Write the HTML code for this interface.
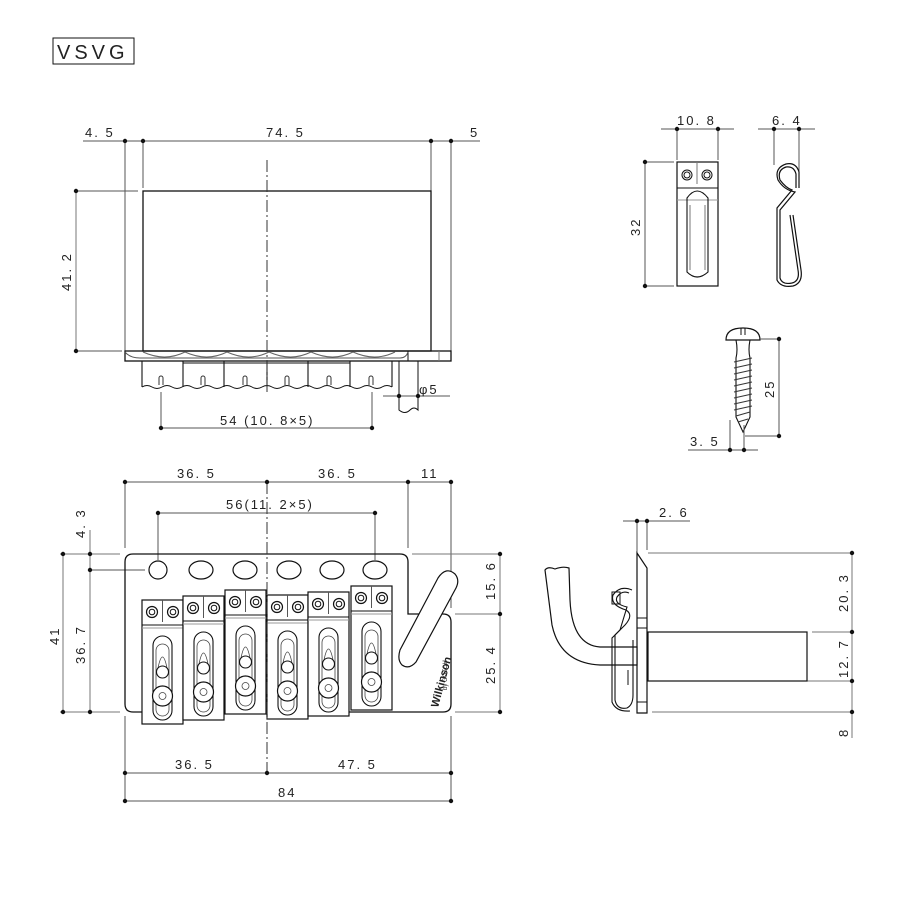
<!DOCTYPE html>
<html><head><meta charset="utf-8"><style>
html,body{margin:0;padding:0;background:#fff}
svg{display:block}
text{font-family:"Liberation Sans",sans-serif;font-size:13px;letter-spacing:2px;fill:#222}
</style></head><body>
<svg width="900" height="900" viewBox="0 0 900 900" xmlns="http://www.w3.org/2000/svg">
<defs>
<g id="sd">
 <rect x="0" y="0" width="41" height="124" fill="#fff" stroke="#111" stroke-width="1.2"/>
 <line x1="20.5" y1="0" x2="20.5" y2="22" stroke="#555"/>
 <circle cx="10" cy="12" r="5.5" fill="none" stroke="#111" stroke-width="1.2"/><circle cx="10" cy="12" r="2.8" fill="none" stroke="#111"/>
 <circle cx="31" cy="12" r="5.5" fill="none" stroke="#111" stroke-width="1.2"/><circle cx="31" cy="12" r="2.8" fill="none" stroke="#111"/>
 <line x1="0" y1="25" x2="41" y2="25" stroke="#111"/><line x1="0" y1="28" x2="41" y2="28" stroke="#999"/>
 <rect x="11" y="36" width="19" height="84" rx="9.5" fill="none" stroke="#111" stroke-width="1.1"/>
 <rect x="14" y="44" width="13" height="72" rx="6.5" fill="none" stroke="#444" stroke-width=".8"/>
 <path d="M16 68 Q20.5 46 25 68" fill="none" stroke="#444" stroke-width=".8"/>
 <circle cx="20.5" cy="72" r="6" fill="#fff" stroke="#111" stroke-width="1.1"/>
 <circle cx="20.5" cy="96" r="10" fill="#fff" stroke="#111" stroke-width="1.2"/>
 <circle cx="20.5" cy="96" r="3.5" fill="none" stroke="#444" stroke-width=".8"/>
</g>
</defs>
<g fill="none" stroke="#111" stroke-width="1">
<!-- VSVG -->
<rect x="53" y="38" width="81" height="26" stroke-width="1"/>
</g>
<text x="57" y="59" style="font-size:20px;letter-spacing:4px">VSVG</text>

<!-- TOP LEFT VIEW -->
<g fill="none" stroke="#111" stroke-width="1">
<line x1="83" y1="141" x2="480" y2="141" stroke="#555"/>
<line x1="125" y1="141" x2="125" y2="351" stroke="#555"/>
<line x1="143" y1="141" x2="143" y2="188" stroke="#555"/>
<line x1="431" y1="141" x2="431" y2="191" stroke="#555"/>
<line x1="451" y1="141" x2="451" y2="351" stroke="#555"/>
<line x1="76" y1="191" x2="138" y2="191" stroke="#555"/>
<line x1="76" y1="351" x2="122" y2="351" stroke="#555"/>
<line x1="76" y1="191" x2="76" y2="351" stroke="#777"/>
<rect x="143" y="191" width="288" height="160" stroke-width="1.3"/>
<rect x="125" y="351" width="326" height="10" stroke-width="1.3"/>
<line x1="408" y1="351" x2="408" y2="361"/><line x1="439" y1="351" x2="439" y2="361" stroke="#777"/>
<path d="M125 352 Q130 358 140 358 L400 358 Q406 358 408 352" stroke="#555"/>
<path d="M143 352 Q165 362 185 352 M185 352 Q207 362 227 352 M227 352 Q249 362 269 352 M269 352 Q291 362 311 352 M311 352 Q333 362 353 352 M353 352 Q375 362 395 352" stroke="#666"/>
<path d="M142 361 V387 M183 361 V387 M224 361 V387 M267 361 V387 M308 361 V387 M350 361 V387 M392 361 V387" stroke-width="1.1"/>
<path d="M183 363 H350" stroke="#111"/>
<path d="M142 387 q5 -3 10 0 t10 0 t10 0 t10 0 t10 0 t10 0 t10 0 t10 0 t10 0 t10 0 t10 0 t10 0 t10 0 t10 0 t10 0 t10 0 t10 0 t10 0 t10 0 t10 0 t10 0 t10 0 t10 0 t10 0 t10 0" stroke-width="1"/>
<path d="M159 385 v-7 a2 2 0 0 1 4 0 v7 M201 385 v-7 a2 2 0 0 1 4 0 v7 M243 385 v-7 a2 2 0 0 1 4 0 v7 M285 385 v-7 a2 2 0 0 1 4 0 v7 M327 385 v-7 a2 2 0 0 1 4 0 v7 M369 385 v-7 a2 2 0 0 1 4 0 v7" stroke="#333"/>
<line x1="267" y1="160" x2="267" y2="392" stroke="#333" stroke-dasharray="12,3,2,3"/>
<path d="M399 361 V410 Q405 415 410 410 Q414 406 418 410 V361"/>
<line x1="383" y1="396" x2="450" y2="396" stroke="#555"/>
<line x1="161" y1="392" x2="161" y2="428" stroke="#555"/><line x1="372" y1="392" x2="372" y2="428" stroke="#555"/>
<line x1="161" y1="428" x2="372" y2="428" stroke="#555"/>
</g>
<g fill="#111">
<circle cx="125" cy="141" r="2.2"/><circle cx="143" cy="141" r="2.2"/><circle cx="431" cy="141" r="2.2"/><circle cx="451" cy="141" r="2.2"/>
<circle cx="76" cy="191" r="2.2"/><circle cx="76" cy="351" r="2.2"/>
<circle cx="399" cy="396" r="2.2"/><circle cx="418" cy="396" r="2.2"/>
<circle cx="161" cy="428" r="2.2"/><circle cx="372" cy="428" r="2.2"/>
</g>
<text x="85" y="137">4. 5</text><text x="266" y="137">74. 5</text><text x="470" y="137">5</text>
<text x="419" y="394">φ5</text>
<text x="220" y="425">54 (10. 8×5)</text>
<text transform="translate(71,291) rotate(-90)">41. 2</text>

<!-- TOP RIGHT: claw -->
<g fill="none" stroke="#111" stroke-width="1">
<line x1="661" y1="129" x2="734" y2="129" stroke="#555"/>
<line x1="677" y1="129" x2="677" y2="160" stroke="#555"/><line x1="718" y1="129" x2="718" y2="160" stroke="#555"/>
<line x1="645" y1="162" x2="674" y2="162" stroke="#555"/><line x1="645" y1="286" x2="674" y2="286" stroke="#555"/>
<line x1="645" y1="162" x2="645" y2="286" stroke="#555"/>
<rect x="677" y="162" width="41" height="124" stroke-width="1.2"/>
<circle cx="687" cy="175" r="5"/><circle cx="687" cy="175" r="3"/>
<circle cx="707" cy="175" r="5"/><circle cx="707" cy="175" r="3"/>
<line x1="697" y1="162" x2="697" y2="184" stroke="#777"/>
<line x1="677" y1="188" x2="718" y2="188"/><line x1="677" y1="200" x2="718" y2="200" stroke="#999"/>
<path d="M687 198 Q697 184 708 198 V272 Q697 282 687 272 Z" stroke-width="1.1"/>
<line x1="690" y1="205" x2="690" y2="270" stroke="#777"/><line x1="705" y1="205" x2="705" y2="270" stroke="#777"/>
<!-- spring -->
<line x1="758" y1="129" x2="815" y2="129" stroke="#555"/>
<line x1="774" y1="129" x2="774" y2="165" stroke="#555"/><line x1="799" y1="129" x2="799" y2="188" stroke="#555"/>
<path d="M799 188 V172 Q796 162 786 164 Q774 168 778 180 Q784 190 795 192 L780 210 V278 Q782 285 792 283 Q800 281 798 270 L790 215" stroke-width="1.2"/>
<path d="M796 188 V174 Q794 166 786 167 Q777 170 780 180 Q786 188 792 190 L777 208 V280 Q781 288 793 286 Q803 283 801 270 L793 215" stroke-width="1.2"/>
<!-- screw -->
<path d="M726 340 Q726 328 743 328 Q760 328 760 340 Z" stroke-width="1.2"/>
<line x1="741" y1="328" x2="741" y2="335"/><line x1="745" y1="328" x2="745" y2="335"/>
<path d="M736 340 Q738 350 736 358 V417 L743 432 L750 417 V358 Q748 350 750 340" stroke-width="1.1"/>
<path d="M734 362 L752 358 M734 368 L752 364 M734 374 L752 370 M734 380 L752 376 M734 386 L752 382 M734 392 L752 388 M734 398 L752 394 M734 404 L752 400 M734 410 L752 406 M736 416 L750 412 M738 422 L748 419" stroke="#333"/>
<line x1="760" y1="339" x2="779" y2="339" stroke="#555"/><line x1="745" y1="436" x2="779" y2="436" stroke="#555"/>
<line x1="779" y1="339" x2="779" y2="436" stroke="#555"/>
<line x1="730" y1="420" x2="730" y2="450" stroke="#555"/><line x1="744" y1="425" x2="744" y2="450" stroke="#555"/>
<line x1="688" y1="450" x2="758" y2="450" stroke="#555"/>
</g>
<g fill="#111">
<circle cx="677" cy="129" r="2.2"/><circle cx="718" cy="129" r="2.2"/><circle cx="645" cy="162" r="2.2"/><circle cx="645" cy="286" r="2.2"/>
<circle cx="774" cy="129" r="2.2"/><circle cx="799" cy="129" r="2.2"/>
<circle cx="779" cy="339" r="2.2"/><circle cx="779" cy="436" r="2.2"/><circle cx="730" cy="450" r="2.2"/><circle cx="744" cy="450" r="2.2"/>
</g>
<text x="677" y="125">10. 8</text><text x="772" y="125">6. 4</text><text x="690" y="446">3. 5</text>
<text transform="translate(640,236) rotate(-90)">32</text>
<text transform="translate(774,398) rotate(-90)">25</text>

<!-- BOTTOM LEFT VIEW -->
<g fill="none" stroke="#111" stroke-width="1">
<line x1="125" y1="482" x2="451" y2="482" stroke="#555"/>
<line x1="125" y1="482" x2="125" y2="548" stroke="#555"/>
<line x1="408" y1="482" x2="408" y2="548" stroke="#555"/>
<line x1="451" y1="482" x2="451" y2="608" stroke="#555"/>
<line x1="158" y1="513" x2="375" y2="513" stroke="#555"/>
<line x1="158" y1="513" x2="158" y2="560" stroke="#555"/><line x1="375" y1="513" x2="375" y2="560" stroke="#555"/>
<line x1="60" y1="554" x2="120" y2="554" stroke="#777"/><line x1="412" y1="554" x2="500" y2="554" stroke="#777"/>
<line x1="455" y1="614" x2="500" y2="614" stroke="#777"/>
<line x1="60" y1="712" x2="120" y2="712" stroke="#777"/><line x1="455" y1="712" x2="500" y2="712" stroke="#777"/>
<line x1="90" y1="570" x2="145" y2="570" stroke="#555"/>
<line x1="63" y1="554" x2="63" y2="712" stroke="#777"/>
<line x1="90" y1="530" x2="90" y2="712" stroke="#777"/>
<line x1="500" y1="554" x2="500" y2="712" stroke="#777"/>
<path d="M133 554 H400 Q408 554 408 562 V614 H443 Q451 614 451 622 V704 Q451 712 443 712 H133 Q125 712 125 704 V562 Q125 554 133 554 Z" stroke-width="1.3"/>
<circle cx="158" cy="570" r="9" stroke-width="1.2"/>
<ellipse cx="201" cy="570" rx="12" ry="9" stroke-width="1.2"/><ellipse cx="245" cy="570" rx="12" ry="9" stroke-width="1.2"/>
<ellipse cx="289" cy="570" rx="12" ry="9" stroke-width="1.2"/><ellipse cx="332" cy="570" rx="12" ry="9" stroke-width="1.2"/>
<ellipse cx="375" cy="570" rx="12" ry="9" stroke-width="1.2"/>
<path d="M400 650 L438 578 Q446 566 455 574 Q460 580 456 588 L416 662 Q409 670 402 665 Q397 660 400 650 Z" fill="#fff" stroke-width="1.2"/>
<line x1="125" y1="716" x2="125" y2="801" stroke="#555"/><line x1="451" y1="716" x2="451" y2="801" stroke="#555"/>
<line x1="125" y1="773" x2="451" y2="773" stroke="#555"/>
<line x1="125" y1="801" x2="451" y2="801" stroke="#555"/>
</g>
<use href="#sd" x="142" y="600"/>
<use href="#sd" x="183" y="596"/>
<use href="#sd" x="225" y="590"/>
<use href="#sd" x="267" y="595"/>
<use href="#sd" x="308" y="592"/>
<use href="#sd" x="351" y="586"/>
<line x1="267" y1="482" x2="267" y2="773" stroke="#333" stroke-dasharray="12,3,2,3"/>
<text transform="translate(438,708) rotate(-75)" style="font-size:11px;font-weight:bold;letter-spacing:0">Wilkinson</text>
<text transform="translate(447,690) rotate(-90)" style="font-size:6px;letter-spacing:0">by GOTOH</text>
<g fill="#111">
<circle cx="125" cy="482" r="2.2"/><circle cx="267" cy="482" r="2.2"/><circle cx="408" cy="482" r="2.2"/><circle cx="451" cy="482" r="2.2"/>
<circle cx="158" cy="513" r="2.2"/><circle cx="375" cy="513" r="2.2"/>
<circle cx="63" cy="554" r="2.2"/><circle cx="90" cy="554" r="2.2"/><circle cx="90" cy="570" r="2.2"/>
<circle cx="63" cy="712" r="2.2"/><circle cx="90" cy="712" r="2.2"/>
<circle cx="500" cy="554" r="2.2"/><circle cx="500" cy="614" r="2.2"/><circle cx="500" cy="712" r="2.2"/>
<circle cx="125" cy="773" r="2.2"/><circle cx="267" cy="773" r="2.2"/><circle cx="451" cy="773" r="2.2"/>
<circle cx="125" cy="801" r="2.2"/><circle cx="451" cy="801" r="2.2"/>
</g>
<text x="177" y="478">36. 5</text><text x="318" y="478">36. 5</text><text x="421" y="478">11</text>
<text x="226" y="509">56(11. 2×5)</text>
<text x="175" y="769">36. 5</text><text x="338" y="769">47. 5</text><text x="278" y="797">84</text>
<text transform="translate(59,645) rotate(-90)">41</text>
<text transform="translate(85,664) rotate(-90)">36. 7</text>
<text transform="translate(85,538) rotate(-90)">4. 3</text>
<text transform="translate(495,600) rotate(-90)">15. 6</text>
<text transform="translate(495,684) rotate(-90)">25. 4</text>

<!-- SIDE VIEW -->
<g fill="none" stroke="#111" stroke-width="1">
<line x1="623" y1="521" x2="690" y2="521" stroke="#555"/>
<line x1="637" y1="521" x2="637" y2="553" stroke="#555"/><line x1="647" y1="521" x2="647" y2="550" stroke="#555"/>
<line x1="648" y1="553" x2="852" y2="553" stroke="#777"/>
<line x1="812" y1="632" x2="852" y2="632" stroke="#777"/>
<line x1="648" y1="681" x2="852" y2="681" stroke="#777"/>
<line x1="652" y1="712" x2="852" y2="712" stroke="#777"/>
<line x1="852" y1="553" x2="852" y2="738" stroke="#777"/>
<path d="M637 553 L647 568 V713 H637 Z" stroke-width="1.2"/>
<line x1="637" y1="618" x2="647" y2="618"/><line x1="637" y1="628" x2="647" y2="628"/><line x1="637" y1="702" x2="647" y2="702"/>
<rect x="648" y="632" width="159" height="49" stroke-width="1.2"/>
<path d="M545 570 Q548 566 555 569 Q563 566 569 568 L570 600 Q572 645 600 647 H637 V665 H600 Q560 663 552 625 Z" fill="#fff" stroke-width="1.2"/>
<path d="M632 590 Q620 585 613 595 Q610 605 626 610 Q634 615 625 625 L615 635 V700 Q617 710 627 708 Q633 705 633 695 V640" stroke-width="1.1"/>
<path d="M629 593 Q622 590 617 597 Q614 604 627 607 L620 630 L612 638 V702 Q616 712 630 711" stroke-width="1.1"/>
<rect x="612" y="592" width="8" height="12"/>
<line x1="628" y1="670" x2="628" y2="685"/>
</g>
<g fill="#111">
<circle cx="637" cy="521" r="2.2"/><circle cx="647" cy="521" r="2.2"/>
<circle cx="852" cy="553" r="2.2"/><circle cx="852" cy="632" r="2.2"/><circle cx="852" cy="681" r="2.2"/><circle cx="852" cy="712" r="2.2"/>
</g>
<text x="659" y="517">2. 6</text>
<text transform="translate(848,612) rotate(-90)">20. 3</text>
<text transform="translate(848,678) rotate(-90)">12. 7</text>
<text transform="translate(848,737) rotate(-90)">8</text>
</svg>
</body></html>
